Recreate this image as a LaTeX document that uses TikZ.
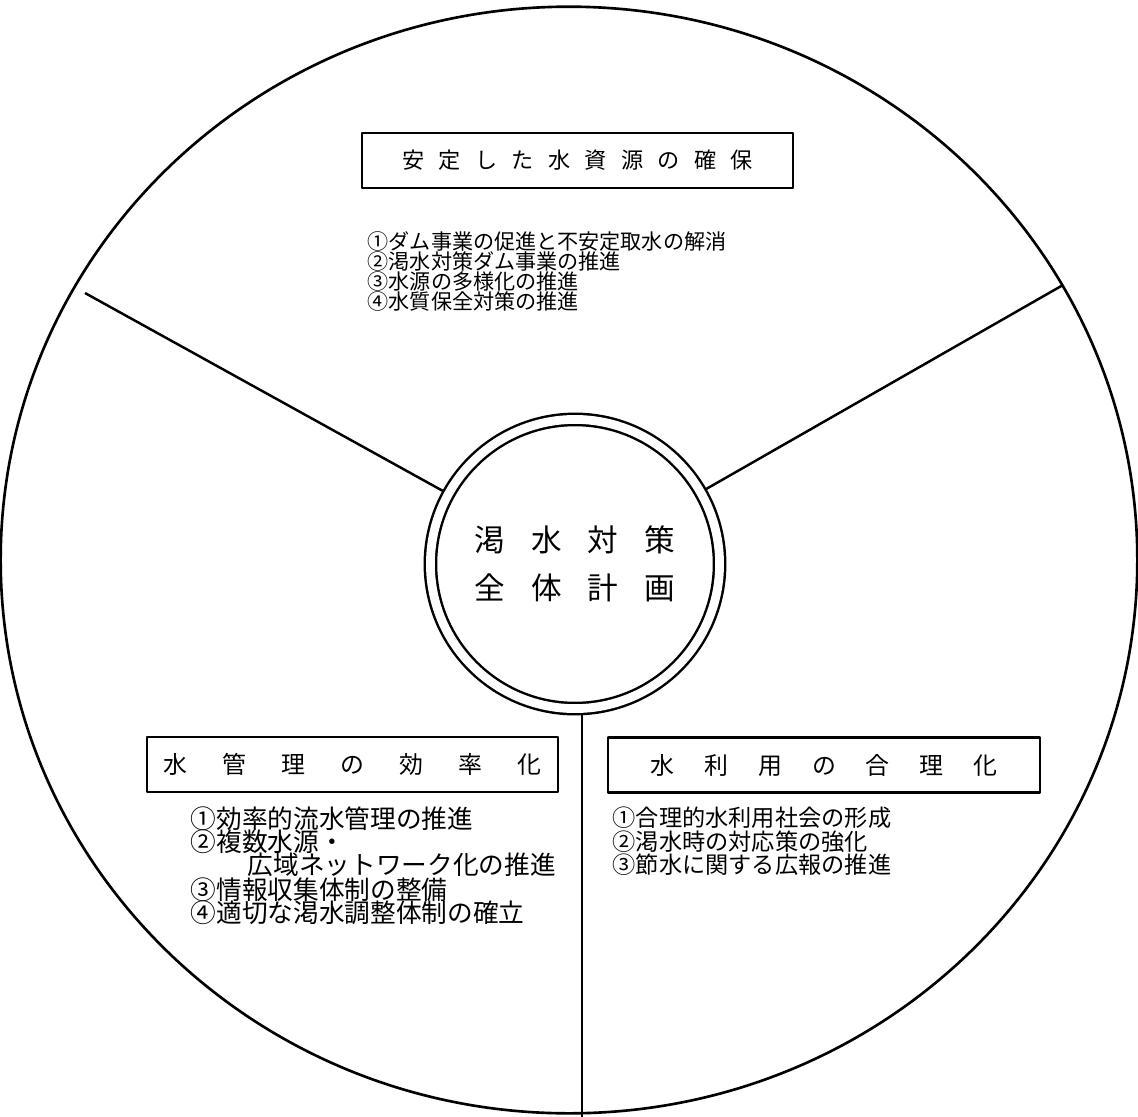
\documentclass[tikz,border=0pt]{standalone}
\usepackage{fontspec}
\setmainfont{Noto Sans CJK JP}
\usetikzlibrary{shapes.geometric,backgrounds}
\makeatletter
\def\sp@loop#1{\ifx\relax#1\else\sp@k#1\expandafter\sp@loop\fi}
\newcommand\spacedtext[2]{\def\sp@k{\def\sp@k{\hspace{#1}}}\sp@loop#2\relax}
\makeatother
\begin{document}
\begin{tikzpicture}[x=0.01cm,y=-0.01cm,line join=round,
  rim/.style={draw,ellipse,line width=0.75pt,inner sep=0pt},
  hubstyle/.style={circle,draw,double,double distance=2.5pt,line width=0.7pt,fill=white,
     minimum size=2.89cm,inner sep=0pt,align=center,font=\fontsize{8.7pt}{13.7pt}\selectfont},
  titlebox/.style={draw,rectangle,line width=0.6pt,inner sep=0pt,minimum height=0.55cm},
  spoke/.style={line width=0.7pt},
  listline/.style={anchor=west,inner sep=0pt}]
\useasboundingbox (0,0) rectangle (1138,1117);
\node[rim,minimum width=11.36cm,minimum height=11.06cm] (rimc) at (569,560) {};
\node[hubstyle] (hub) at (575,564) {\spacedtext{0.26cm}{渇水対策}\\\spacedtext{0.26cm}{全体計画}};
\coordinate (A) at (85,293);
\coordinate (B) at (1063,285);
\coordinate (C) at (582,1117);
\begin{pgfonlayer}{background}
\draw[spoke] (A) -- (hub);
\draw[spoke] (B) -- (hub);
\draw[spoke] (C) -- (C |- hub.center);
\end{pgfonlayer}
% title boxes
\node[titlebox,minimum width=4.31cm,font=\fontsize{6.3pt}{7pt}\selectfont] (top) at (577.5,160.5) {\spacedtext{0.143cm}{安定した水資源の確保}};
\node[titlebox,minimum width=4.11cm,font=\fontsize{6.8pt}{7pt}\selectfont] (left) at (352.5,764.5) {\spacedtext{0.35cm}{水管理の効率化}};
\node[titlebox,minimum width=4.32cm,font=\fontsize{6.8pt}{7pt}\selectfont] (right) at (824,765) {\spacedtext{0.30cm}{水利用の合理化}};
% top list
\begin{scope}[every node/.style={listline,font=\fontsize{6.0pt}{7pt}\selectfont}]
\node (t1) at (367,241) {①ダム事業の促進と不安定取水の解消};
\node (t2) at (367,261) {②渇水対策ダム事業の推進};
\node (t3) at (367,281) {③水源の多様化の推進};
\node (t4) at (367,301) {④水質保全対策の推進};
\end{scope}
% bottom-left list
\begin{scope}[every node/.style={listline,font=\fontsize{7.3pt}{8pt}\selectfont}]
\node (l1) at (190,819) {①効率的流水管理の推進};
\node (l2) at (190,842) {②複数水源・};
\node (l3) at (247,865) {広域ネットワーク化の推進};
\node (l4) at (190,890) {③情報収集体制の整備};
\node (l5) at (190,913) {④適切な渇水調整体制の確立};
\end{scope}
% bottom-right list
\begin{scope}[every node/.style={listline,font=\fontsize{6.6pt}{8pt}\selectfont}]
\node (r1) at (612,818) {①合理的水利用社会の形成};
\node (r2) at (612,842) {②渇水時の対応策の強化};
\node (r3) at (612,865) {③節水に関する広報の推進};
\end{scope}
\end{tikzpicture}
\end{document}
